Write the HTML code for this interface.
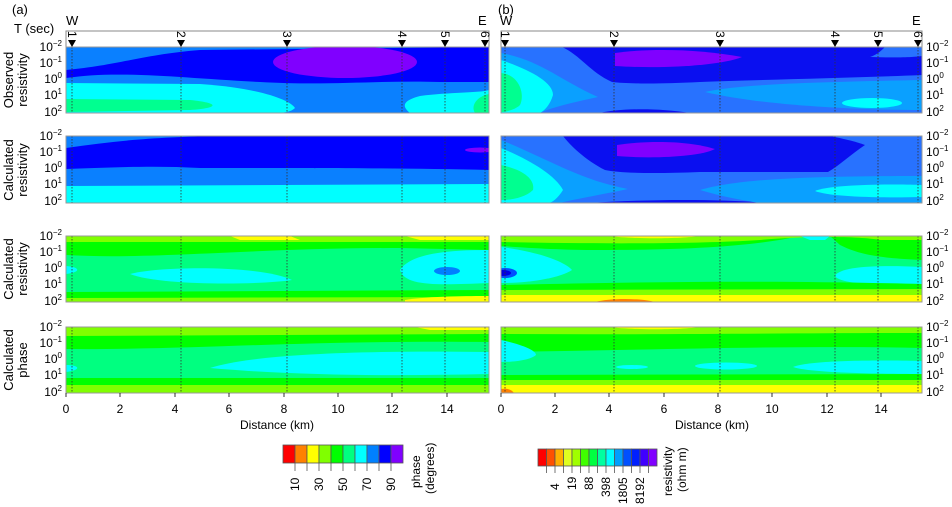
<!DOCTYPE html>
<html><head><style>body{margin:0;background:#fff}svg{display:block;font-family:"Liberation Sans",sans-serif}</style></head><body>
<svg width="952" height="507" viewBox="0 0 952 507" xmlns="http://www.w3.org/2000/svg">
<defs>
<clipPath id="a1"><rect x="66" y="47" width="423" height="66"/></clipPath>
<clipPath id="a2"><rect x="66" y="136" width="423" height="67"/></clipPath>
<clipPath id="a3"><rect x="66" y="236" width="423" height="66"/></clipPath>
<clipPath id="a4"><rect x="66" y="327" width="423" height="66"/></clipPath>
<clipPath id="b1"><rect x="501" y="47" width="421" height="66"/></clipPath>
<clipPath id="b2"><rect x="501" y="136" width="421" height="67"/></clipPath>
<clipPath id="b3"><rect x="501" y="236" width="421" height="66"/></clipPath>
<clipPath id="b4"><rect x="501" y="327" width="421" height="66"/></clipPath>
</defs>
<g font-size="13" fill="#000">
<text x="12" y="14">(a)</text><text x="498" y="14">(b)</text>
<text x="66" y="25">W</text><text x="478" y="25">E</text>
<text x="500" y="25">W</text><text x="912" y="25">E</text>
<text x="14" y="33">T (sec)</text>
</g>
<rect x="66" y="31" width="423" height="16" fill="#fff" stroke="#888"/>
<rect x="501" y="31" width="421" height="16" fill="#fff" stroke="#888"/>

<!-- Panel a row1 -->
<g clip-path="url(#a1)">
<rect x="66" y="47" width="423" height="66" fill="#0a80ff"/>
<path d="M66 70 C120 65 140 55 200 50 L489 47 L489 113 L420 113 C390 100 395 90 420 88 L489 85 L489 113 L66 113 Z" fill="#0000ff"/>
<path d="M66 47 L200 47 C150 52 110 60 66 64Z" fill="#0a80ff"/>
<path d="M66 78 C120 70 180 78 260 82 C330 86 380 80 440 82 L489 82 L489 113 L66 113Z" fill="#0a80ff"/>
<path d="M66 83 L200 84 C260 88 290 100 295 108 C290 113 280 113 270 113 L66 113Z" fill="#00ffff"/>
<path d="M410 113 C400 105 405 100 420 96 C450 92 480 93 489 90 L489 113Z" fill="#00ffff"/>
<path d="M66 99 L190 100 C220 103 220 108 190 110 L66 112Z" fill="#00ff90"/>
<path d="M475 113 C470 105 478 96 489 94 L489 113Z" fill="#00ff90"/>
<ellipse cx="345" cy="62" rx="72" ry="16" fill="#8000ff"/>
</g>
<!-- Panel a row2 -->
<g clip-path="url(#a2)">
<rect x="66" y="136" width="423" height="67" fill="#00ffff"/>
<path d="M66 136 L489 136 L489 184 L66 186Z" fill="#0a80ff"/>
<path d="M66 148 C120 140 160 137 220 136 L489 136 L489 170 C400 168 300 168 270 168 L200 168 C150 165 100 168 66 169Z" fill="#0000ff"/>
<path d="M66 136 L160 136 C120 140 90 143 66 145Z" fill="#0a80ff"/>
<ellipse cx="480" cy="150" rx="15" ry="2.5" fill="#8000ff"/>
</g>
<!-- Panel a row3 -->
<g clip-path="url(#a3)">
<rect x="66" y="236" width="423" height="66" fill="#80ff00"/>
<path d="M66 242 L489 242 L489 298 L66 298Z" fill="#00ff00"/>
<path d="M66 255 C150 260 250 248 400 248 L489 250 L489 290 L66 292Z" fill="#00ff80"/>
<path d="M66 266 C80 267 82 272 66 274Z" fill="#00ffff"/>
<path d="M130 274 C160 266 260 265 292 280 C260 285 160 286 130 274Z" fill="#00ffff"/>
<path d="M489 250 C440 250 410 255 400 270 C405 287 440 285 489 283Z" fill="#00ffff"/>
<ellipse cx="447" cy="271" rx="13" ry="4" fill="#0080ff"/>
<path d="M66 298 L489 297 L489 302 L66 302Z" fill="#80ff00"/>
<path d="M405 300 C430 296 470 296 489 296 L489 302 L405 302Z" fill="#ffff00"/>
<path d="M230 236 L290 236 L300 240 L240 240Z" fill="#ffff00"/>
<path d="M405 236 L489 236 L489 240 L420 240Z" fill="#ffff00"/>
</g>
<!-- Panel a row4 -->
<g clip-path="url(#a4)">
<rect x="66" y="327" width="423" height="66" fill="#80ff00"/>
<path d="M66 336 L489 334 L489 385 L66 385Z" fill="#00ff00"/>
<path d="M66 349 C200 350 300 340 489 342 L489 378 L66 378Z" fill="#00ff80"/>
<path d="M66 365 C80 365 82 370 66 372Z" fill="#00ffff"/>
<path d="M210 368 C250 355 350 350 489 352 L489 374 C400 376 300 376 210 368Z" fill="#00ffff"/>
<path d="M66 388 L489 388 L489 393 L66 393Z" fill="#80ff00"/>
<path d="M415 327 L489 327 L489 330 L430 330Z" fill="#ffff00"/>
</g>

<!-- Panel b row1 -->
<g clip-path="url(#b1)">
<rect x="501" y="47" width="421" height="66" fill="#2872ff"/>
<path d="M562 47 L885 47 C880 52 876 55 870 57 C900 58 915 57 922 56 L922 75 C850 78 750 80 700 82 C660 84 630 84 612 82 C590 72 580 55 562 47Z" fill="#0a0ff0"/>
<path d="M600 113 C620 108 660 108 690 113Z" fill="#0a0ff0"/>
<path d="M705 92 C740 84 820 82 922 80 L922 110 C850 110 760 105 705 92Z" fill="#0aa0ff"/>
<ellipse cx="872" cy="103" rx="30" ry="5" fill="#00ffff"/>
<path d="M501 53 C540 60 560 80 598 97 C570 103 550 108 540 113 L501 113Z" fill="#0aa0ff"/>
<path d="M501 60 C530 70 553 82 553 95 C550 105 545 110 540 113 L501 113Z" fill="#00ffff"/>
<path d="M501 73 C520 75 525 95 520 105 C515 110 505 112 501 112Z" fill="#00ff90"/>
<path d="M615 53 C650 48 700 49 742 57 C720 66 660 69 615 66 Z" fill="#8000ff"/>
</g>
<!-- Panel b row2 -->
<g clip-path="url(#b2)">
<rect x="501" y="136" width="421" height="67" fill="#2872ff"/>
<path d="M563 136 L830 136 C850 140 860 143 865 145 C850 155 840 165 828 172 L700 172 C650 174 620 173 605 170 C585 160 570 145 563 136Z" fill="#0a0ff0"/>
<path d="M590 203 C650 199 720 199 770 203Z" fill="#0a0ff0"/>
<path d="M700 190 C740 178 820 176 922 176 L922 203 L760 203 C740 200 720 196 700 190Z" fill="#0aa0ff"/>
<path d="M815 191 C830 184 900 184 922 185 L922 197 C880 198 830 197 815 191Z" fill="#00ffff"/>
<path d="M501 140 C550 160 580 180 628 189 C600 195 570 200 560 203 L501 203Z" fill="#0aa0ff"/>
<path d="M501 148 C530 160 555 175 563 190 C558 198 552 203 548 203 L501 203Z" fill="#00ffff"/>
<path d="M501 165 C525 170 535 180 533 190 C525 198 510 200 501 200Z" fill="#00ff90"/>
<path d="M617 145 C650 140 690 141 715 149 C700 157 650 159 617 156Z" fill="#8000ff"/>
</g>
<!-- Panel b row3 -->
<g clip-path="url(#b3)">
<rect x="501" y="236" width="421" height="66" fill="#00ff80"/>
<path d="M501 236 L922 236 L922 260 C880 258 860 255 840 245 L830 236 L800 236 C760 245 700 250 600 250 C560 250 530 248 501 246Z" fill="#00ff00"/>
<path d="M501 236 L922 236 L922 240 L880 240 C860 236 800 236 760 240 C700 244 600 244 501 242Z" fill="#80ff00"/>
<path d="M610 236 L700 236 C680 239 630 239 610 236Z" fill="#ffff00"/>
<path d="M800 236 L830 236 L825 240 L810 240Z" fill="#00ffff"/>
<path d="M501 247 C540 252 565 262 572 270 C560 278 530 283 501 283Z" fill="#00ffff"/>
<ellipse cx="505" cy="273" rx="12" ry="5" fill="#0050ff"/>
<ellipse cx="503" cy="273" rx="8" ry="3" fill="#0000e0"/>
<path d="M835 276 C840 266 880 265 922 267 L922 285 C880 286 840 284 835 276Z" fill="#00ffff"/>
<path d="M501 285 C650 282 750 280 922 284 L922 302 L501 302Z" fill="#00ff00"/>
<path d="M501 290 L922 289 L922 302 L501 302Z" fill="#80ff00"/>
<path d="M501 295 L922 295 L922 302 L501 302Z" fill="#ffff00"/>
<path d="M595 302 C610 298 640 298 655 302Z" fill="#ff8000"/>
</g>
<!-- Panel b row4 -->
<g clip-path="url(#b4)">
<rect x="501" y="327" width="421" height="66" fill="#00ff80"/>
<path d="M501 327 L922 327 L922 348 C800 345 650 350 501 352Z" fill="#00ff00"/>
<path d="M501 327 L922 327 L922 333 C800 333 650 335 501 334Z" fill="#80ff00"/>
<path d="M610 327 L700 327 C680 330 630 330 610 327Z" fill="#ffff00"/>
<path d="M501 340 C520 344 536 350 536 355 C530 360 515 362 501 362Z" fill="#00ffff"/>
<ellipse cx="632" cy="367" rx="16" ry="2" fill="#00ffff"/>
<ellipse cx="726" cy="366" rx="31" ry="3.5" fill="#00ffff"/>
<path d="M793 367 C810 360 880 360 922 361 L922 374 C880 374 810 373 793 367Z" fill="#00ffff"/>
<path d="M501 375 L922 374 L922 393 L501 393Z" fill="#00ff00"/>
<path d="M501 380 L922 380 L922 393 L501 393Z" fill="#80ff00"/>
<path d="M501 385 L922 385 L922 393 L501 393Z" fill="#ffff00"/>
<path d="M501 389 C508 388 512 390 514 393 L501 393Z" fill="#ff8000"/>
</g>

<!-- station lines -->
<g stroke="#333" stroke-width="0.8" stroke-dasharray="1.5,1.5" fill="none">
<path d="M72 47V113M181 47V113M287 47V113M402 47V113M445 47V113M485 47V113 M72 136V203M181 136V203M287 136V203M402 136V203M445 136V203M485 136V203 M72 236V302M181 236V302M287 236V302M402 236V302M445 236V302M485 236V302 M72 327V393M181 327V393M287 327V393M402 327V393M445 327V393M485 327V393"/>
<path d="M505 47V113M614 47V113M720 47V113M835 47V113M878 47V113M918 47V113 M505 136V203M614 136V203M720 136V203M835 136V203M878 136V203M918 136V203 M505 236V302M614 236V302M720 236V302M835 236V302M878 236V302M918 236V302 M505 327V393M614 327V393M720 327V393M835 327V393M878 327V393M918 327V393"/>
</g>
<g fill="none" stroke="#999">
<rect x="66" y="47" width="423" height="66"/><rect x="66" y="136" width="423" height="67"/><rect x="66" y="236" width="423" height="66"/><rect x="66" y="327" width="423" height="66"/>
<rect x="501" y="47" width="421" height="66"/><rect x="501" y="136" width="421" height="67"/><rect x="501" y="236" width="421" height="66"/><rect x="501" y="327" width="421" height="66"/>
</g>
<!-- station markers -->
<g fill="#000" font-size="12">
<path d="M68 40h8l-4 7zM177 40h8l-4 7zM283 40h8l-4 7zM398 40h8l-4 7zM441 40h8l-4 7zM481 40h8l-4 7z"/>
<path d="M501 40h8l-4 7zM610 40h8l-4 7zM716 40h8l-4 7zM831 40h8l-4 7zM874 40h8l-4 7zM914 40h8l-4 7z"/>
<g transform="rotate(90)">
<text x="31" y="-68">1</text><text x="31" y="-177">2</text><text x="31" y="-283">3</text><text x="31" y="-398">4</text><text x="31" y="-441">5</text><text x="31" y="-481">6</text>
<text x="31" y="-501">1</text><text x="31" y="-610">2</text><text x="31" y="-716">3</text><text x="31" y="-831">4</text><text x="31" y="-874">5</text><text x="31" y="-914">6</text>
</g>
</g>
<!-- y labels -->
<g font-size="12" text-anchor="end" fill="#000">
<g id="ylab">
<text x="62" y="51">10<tspan dy="-5" font-size="8">−2</tspan></text>
<text x="62" y="67">10<tspan dy="-5" font-size="8">−1</tspan></text>
<text x="62" y="83">10<tspan dy="-5" font-size="8">0</tspan></text>
<text x="62" y="99">10<tspan dy="-5" font-size="8">1</tspan></text>
<text x="62" y="116">10<tspan dy="-5" font-size="8">2</tspan></text>
</g>
<use href="#ylab" y="89"/><use href="#ylab" y="189"/><use href="#ylab" y="280"/>
</g>
<g font-size="12" fill="#000">
<g id="ylabr">
<text x="926" y="51">10<tspan dy="-5" font-size="8">−2</tspan></text>
<text x="926" y="67">10<tspan dy="-5" font-size="8">−1</tspan></text>
<text x="926" y="83">10<tspan dy="-5" font-size="8">0</tspan></text>
<text x="926" y="99">10<tspan dy="-5" font-size="8">1</tspan></text>
<text x="926" y="116">10<tspan dy="-5" font-size="8">2</tspan></text>
</g>
<use href="#ylabr" y="89"/><use href="#ylabr" y="189"/><use href="#ylabr" y="280"/>
</g>
<g font-size="13" text-anchor="middle" fill="#000">
<text transform="translate(13,80) rotate(-90)">Observed</text><text transform="translate(27,80) rotate(-90)">resistivity</text>
<text transform="translate(13,170) rotate(-90)">Calculated</text><text transform="translate(27,170) rotate(-90)">resistivity</text>
<text transform="translate(13,269) rotate(-90)">Calculated</text><text transform="translate(27,269) rotate(-90)">resistivity</text>
<text transform="translate(13,360) rotate(-90)">Calculated</text><text transform="translate(27,360) rotate(-90)">phase</text>
</g>
<!-- x axis -->
<g font-size="12" text-anchor="middle" fill="#000">
<text x="66" y="413">0</text><text x="120" y="413">2</text><text x="175" y="413">4</text><text x="229" y="413">6</text><text x="284" y="413">8</text><text x="338" y="413">10</text><text x="392" y="413">12</text><text x="447" y="413">14</text>
<text x="501" y="413">0</text><text x="555" y="413">2</text><text x="609" y="413">4</text><text x="664" y="413">6</text><text x="718" y="413">8</text><text x="772" y="413">10</text><text x="827" y="413">12</text><text x="881" y="413">14</text>
<text x="277" y="429">Distance (km)</text><text x="712" y="429">Distance (km)</text>
</g>
<g stroke="#000" stroke-width="0.8">
<path d="M66 393v4M120 393v4M175 393v4M229 393v4M284 393v4M338 393v4M392 393v4M447 393v4M501 393v4M555 393v4M609 393v4M664 393v4M718 393v4M772 393v4M827 393v4M881 393v4"/>
</g>
<!-- phase colorbar -->
<g stroke="#555" stroke-width="0.8">
<rect x="283" y="445" width="12" height="18" fill="#ff0000"/><rect x="295" y="445" width="12" height="18" fill="#ff8000"/><rect x="307" y="445" width="12" height="18" fill="#ffff00"/><rect x="319" y="445" width="12" height="18" fill="#80ff00"/><rect x="331" y="445" width="12" height="18" fill="#00ff00"/><rect x="343" y="445" width="12" height="18" fill="#00ff80"/><rect x="355" y="445" width="12" height="18" fill="#00ffff"/><rect x="367" y="445" width="12" height="18" fill="#0080ff"/><rect x="379" y="445" width="12" height="18" fill="#0000ff"/><rect x="391" y="445" width="12" height="18" fill="#8000ff"/>
<path d="M295 463v8M307 463v8M319 463v8M331 463v8M343 463v8M355 463v8M367 463v8M379 463v8M391 463v8"/>
</g>
<g font-size="12" fill="#000">
<text transform="translate(299,491) rotate(-90)">10</text><text transform="translate(323,491) rotate(-90)">30</text><text transform="translate(347,491) rotate(-90)">50</text><text transform="translate(371,491) rotate(-90)">70</text><text transform="translate(395,491) rotate(-90)">90</text>
<text transform="translate(420,488) rotate(-90)">phase</text><text transform="translate(434,494) rotate(-90)">(degrees)</text>
</g>
<!-- resistivity colorbar -->
<g stroke="#555" stroke-width="0.8">
<rect x="538" y="449" width="8.5" height="17" fill="#ff0000"/><rect x="546.5" y="449" width="8.5" height="17" fill="#ff5000"/><rect x="555" y="449" width="8.5" height="17" fill="#ffb000"/><rect x="563.5" y="449" width="8.5" height="17" fill="#e0ff20"/><rect x="572" y="449" width="8.5" height="17" fill="#a0ff00"/><rect x="580.5" y="449" width="8.5" height="17" fill="#40ff00"/><rect x="589" y="449" width="8.5" height="17" fill="#00ff40"/><rect x="597.5" y="449" width="8.5" height="17" fill="#00ffa0"/><rect x="606" y="449" width="8.5" height="17" fill="#00ffff"/><rect x="614.5" y="449" width="8.5" height="17" fill="#00a0ff"/><rect x="623" y="449" width="8.5" height="17" fill="#0050ff"/><rect x="631.5" y="449" width="8.5" height="17" fill="#0020ff"/><rect x="640" y="449" width="8.5" height="17" fill="#4000ff"/><rect x="648.5" y="449" width="8.5" height="17" fill="#8000ff"/>
<path d="M546.5 466v7M555 466v7M563.5 466v7M572 466v7M580.5 466v7M589 466v7M597.5 466v7M606 466v7M614.5 466v7M623 466v7M631.5 466v7M640 466v7M648.5 466v7"/>
</g>
<g font-size="12" fill="#000">
<text transform="translate(559,490) rotate(-90)">4</text><text transform="translate(576,490) rotate(-90)">19</text><text transform="translate(593,490) rotate(-90)">88</text><text transform="translate(610,497) rotate(-90)">398</text><text transform="translate(627,504) rotate(-90)">1805</text><text transform="translate(644,504) rotate(-90)">8192</text>
<text transform="translate(672,496) rotate(-90)">resistivity</text><text transform="translate(686,492) rotate(-90)">(ohm m)</text>
</g>
</svg>
</body></html>
